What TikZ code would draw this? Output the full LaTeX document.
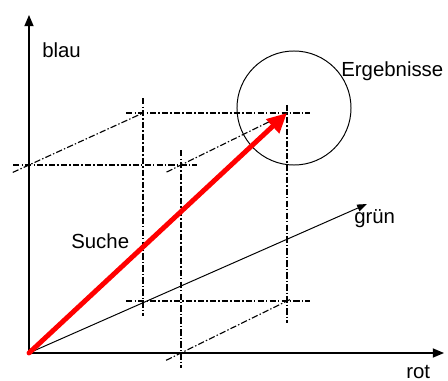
\documentclass[tikz,border=0pt]{standalone}
\usepackage{fontspec}
\setmainfont{Liberation Sans}
\usetikzlibrary{arrows.meta}

\begin{document}
\begin{tikzpicture}[x=0.025cm,y=-0.025cm,font=\fontsize{14.5}{17}\selectfont,
  hilf/.style={line width=0.8pt,dash pattern=on 4.5pt off 1.5pt on 1pt off 1.5pt},
  achse/.style={line width=1pt,-{Triangle[length=8pt,width=6.5pt]}},
  label/.style={anchor=base west,inner sep=0pt}]
\useasboundingbox (0,0) rectangle (448,381);
% Eckpunkte des Quaders
\coordinate (O) at (29,353);
\coordinate (R) at (181,353);
\coordinate (G) at (143,301);
\coordinate (B) at (29,165);
\coordinate (RG) at (287,301);
\coordinate (RB) at (181,165);
\coordinate (GB) at (143,113);
\coordinate (P) at (287,113);
\coordinate (rotEnd) at (444,353);
\coordinate (blauEnd) at (29,15);
\coordinate (gruenEnd) at (367,204);
% Achsen
\draw[achse] (O) -- (rotEnd);
\draw[achse] (O) -- (blauEnd);
\draw[line width=0.7pt,-{Triangle[length=7pt,width=5pt]}] (O) -- (gruenEnd);
% Hilfslinien
\foreach \a/\b/\s/\e in {GB/P/12pt/16pt,GB/G/10.6pt/10.6pt,P/RG/5.7pt/15.6pt,G/RG/12pt/16pt,
  B/RB/11.3pt/11.3pt,RB/R/10.6pt/10.6pt,B/GB/12.7pt/0pt,RB/P/11.4pt/0pt,R/RG/11.8pt/3pt}
  {\draw[hilf,shorten <=-\s,shorten >=-\e] (\a) -- (\b);}
% Ergebnisbereich
\node[draw,circle,line width=0.7pt,inner sep=0pt,minimum size=2.85cm] (kreis) at (294,108) {};
% Suchvektor
\draw[red,line width=3.5pt,line cap=round,-{Triangle[length=14pt,width=13pt]}] (O) -- (P);
% Beschriftungen
\node[label] (blau) at (42,58) {blau};
\node[label] (erg) at (341,77) {Ergebnisse};
\node[label] (gruen) at (354,224) {grün};
\node[label] (rot) at (406,378.5) {rot};
\node[label] (suche) at (71,248) {Suche};
\end{tikzpicture}
\end{document}
